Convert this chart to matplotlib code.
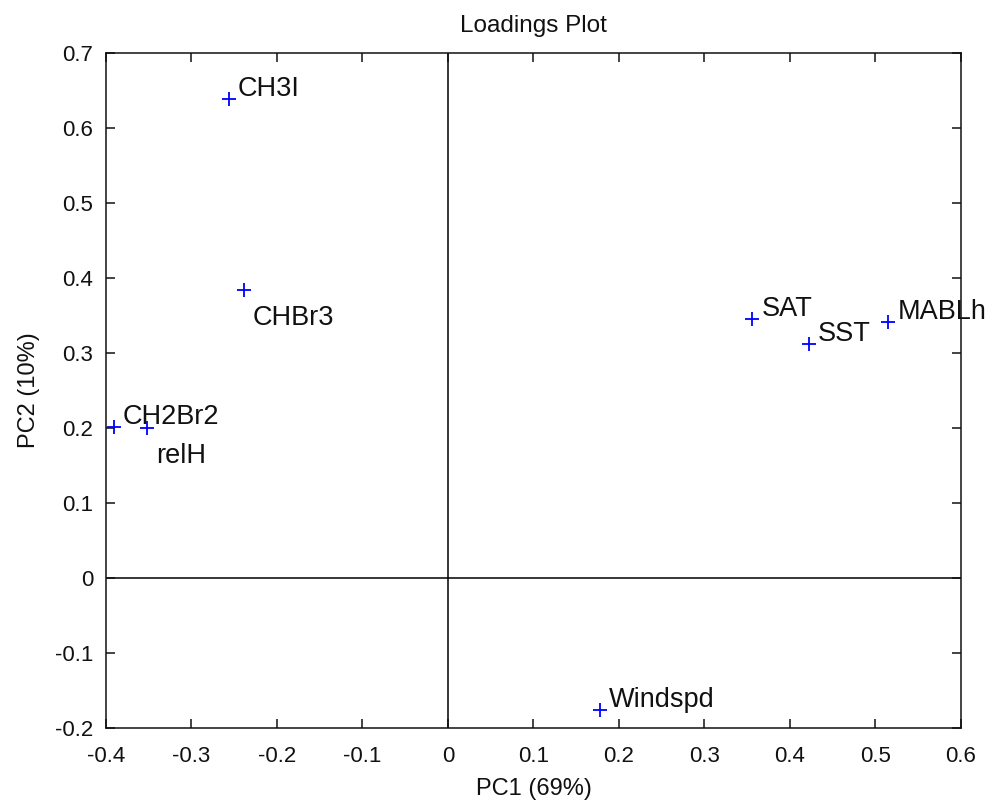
import matplotlib
matplotlib.use("Agg")
import matplotlib.pyplot as plt

plt.rcParams['font.family'] = ['Liberation Sans', 'DejaVu Sans']
plt.rcParams['axes.unicode_minus'] = False

names = ["CH3I", "CHBr3", "CH2Br2", "relH", "SAT", "SST", "MABLh", "Windspd"]
pc1 = [-0.256, -0.239, -0.391, -0.352, 0.356, 0.422, 0.515, 0.178]
pc2 = [0.638, 0.384, 0.201, 0.200, 0.345, 0.312, 0.341, -0.176]
below = [False, True, False, True, False, False, False, False]

xticks = [-0.4, -0.3, -0.2, -0.1, 0, 0.1, 0.2, 0.3, 0.4, 0.5, 0.6]
xticklabels = ["-0.4", "-0.3", "-0.2", "-0.1", "0", "0.1", "0.2", "0.3", "0.4", "0.5", "0.6"]
yticks = [-0.2, -0.1, 0, 0.1, 0.2, 0.3, 0.4, 0.5, 0.6, 0.7]
yticklabels = ["-0.2", "-0.1", "0", "0.1", "0.2", "0.3", "0.4", "0.5", "0.6", "0.7"]

fig = plt.figure(figsize=(9.94, 8.05), dpi=100)
ax = fig.add_axes([0.1066, 0.0957, 0.8602, 0.8385])

ax.axvline(0, color='black', lw=1.1, zorder=1)
ax.axhline(0, color='black', lw=1.1, zorder=1)
ax.plot(pc1, pc2, linestyle='none', marker='+', color='blue', markersize=10, markeredgewidth=1.3, zorder=3)

for n, x, y, b in zip(names, pc1, pc2, below):
    if b:
        ax.annotate(n, (x, y), xytext=(6.5, -25), textcoords='offset points',
                    ha='left', va='baseline', fontsize=19.5, color='#111111')
    else:
        ax.annotate(n, (x, y), xytext=(6.5, 2.2), textcoords='offset points',
                    ha='left', va='baseline', fontsize=19.5, color='#111111')

ax.set_xlim(-0.4, 0.6)
ax.set_ylim(-0.2, 0.7)
ax.set_xticks(xticks)
ax.set_xticklabels(xticklabels)
ax.set_yticks(yticks)
ax.set_yticklabels(yticklabels)
ax.tick_params(direction='in', top=True, right=True, length=6.5, width=1.1,
               labelsize=16, colors='#111111')
ax.tick_params(axis='x', pad=13)
ax.tick_params(axis='y', pad=9)
for s in ax.spines.values():
    s.set_linewidth(1.1)
    s.set_color('#111111')

ax.set_title("Loadings Plot", fontsize=17.5, pad=15, color='#111111')
ax.set_xlabel("PC1 (69%)", fontsize=17, labelpad=8, color='#111111')
ax.set_ylabel("PC2 (10%)", fontsize=17, labelpad=11, color='#111111')

fig.savefig("out.png", dpi=100)
